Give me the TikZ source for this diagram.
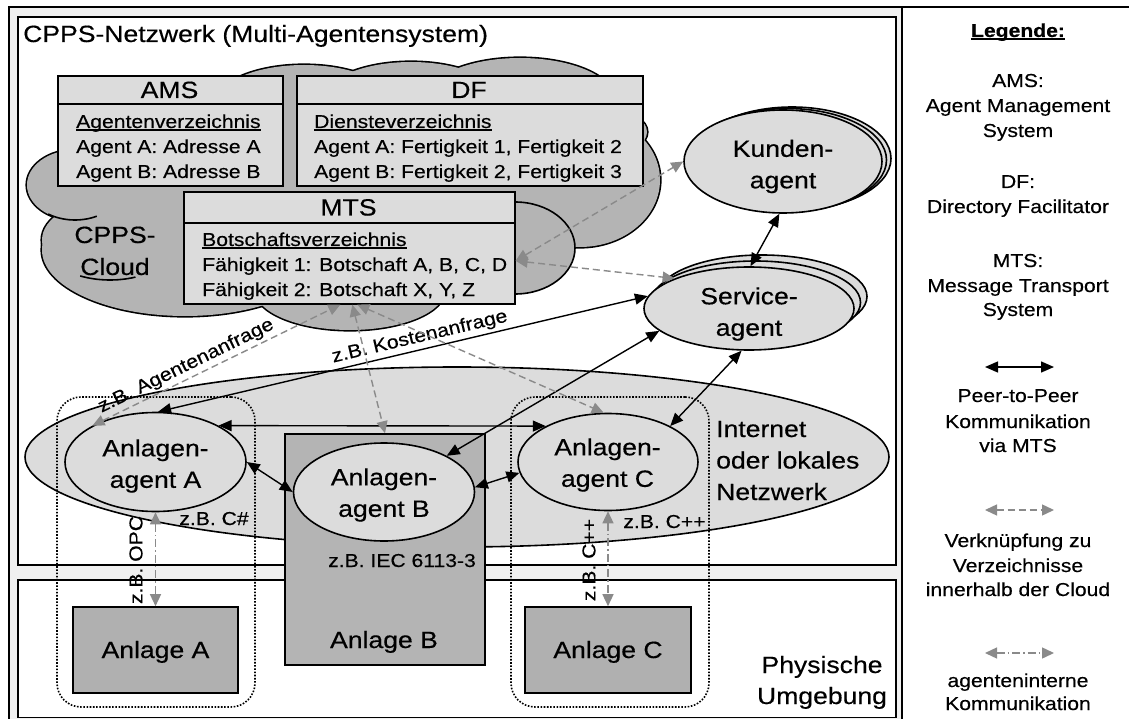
\documentclass[tikz,border=0pt]{standalone}
\usepackage{fontspec}
\setmainfont[FakeStretch=1.13,FakeBold=0.4]{Liberation Sans}
\usetikzlibrary{shapes.geometric,arrows.meta,calc}
\newcommand{\bigtxt}{\fontsize{23.5}{31.5}\selectfont}
\newcommand{\smalltxt}{\fontsize{18.7}{25}\selectfont}
% underline set close to the baseline
\newcommand{\ulbar}[1]{\leavevmode\setbox0\hbox{#1}\rlap{\rule[-2.6pt]{\wd0}{1.1pt}}\box0}
\definecolor{panel}{HTML}{F0F0F0}
\definecolor{boxfill}{HTML}{DCDCDC}
\definecolor{cloudgray}{HTML}{B4B4B4}
\definecolor{plantgray}{HTML}{B0B0B0}
\definecolor{linkgray}{HTML}{8A8A8A}
\begin{document}
\begin{tikzpicture}[x=1pt,y=-1pt,
  frame/.style={draw=black,line width=1.8pt},
  whitebox/.style={rectangle,draw=black,fill=white,line width=1.8pt,inner sep=0pt,anchor=north west},
  tbl/.style={rectangle,draw=black,fill=boxfill,line width=1.6pt,inner sep=0pt,anchor=north west},
  agent/.style={ellipse,draw=black,fill=boxfill,line width=1.6pt,inner sep=0pt},
  plant/.style={rectangle,draw=black,fill=plantgray,line width=1.6pt,inner sep=0pt},
  grp/.style={rectangle,rounded corners=24pt,draw=black,line width=1.6pt,dash pattern=on 1.6pt off 1.6pt,inner sep=0pt},
  big/.style={font=\bigtxt,inner sep=0pt},
  small/.style={font=\smalltxt,inner sep=0pt},
  p2p/.style={draw=black,line width=1.4pt,{Triangle[length=13pt,width=11pt]}-{Triangle[length=13pt,width=11pt]}},
  dirlink/.style={draw=linkgray,line width=1.4pt,dash pattern=on 7pt off 4pt,{Triangle[length=12pt,width=11pt]}-{Triangle[length=12pt,width=11pt]}},
  intlink/.style={draw=linkgray,line width=1.4pt,dash pattern=on 8pt off 3pt on 1.5pt off 3pt,{Triangle[length=12pt,width=11pt]}-{Triangle[length=12pt,width=11pt]}},
  cloudline/.style={line width=1.6pt},
]
\useasboundingbox (0,0) rectangle (1129,719);

% ---- outer table: diagram cell and legend cell
\fill[panel] (9,7) rectangle (902,730);
\draw[frame] (9,7) rectangle (1140,730);
\draw[frame] (902,7) -- (902,730);
\node[whitebox,minimum width=878,minimum height=548] (netzbox) at (17,16) {};
\node[whitebox,minimum width=878,minimum height=137.5] (physbox) at (17,579) {};
\node[big,anchor=base west] (title) at (23,42) {CPPS-Netzwerk (Multi-Agentensystem)};

% ---- CPPS cloud: union of lobes with an outline only on the outside
\def\cloudlobes{304/105/90/40, 411/102/90/40, 520/100/95/42, 615/132/32/20,
    580/180/80/67, 75/185/48/35, 170/172/120/45, 110/240/68/40,
    185/250/143/66, 350/290/95/40, 350/200/220/90}
\foreach \cx/\cy/\rx/\ry in \cloudlobes
  {\draw[line width=3.2pt] (\cx,\cy) ellipse [x radius=\rx, y radius=\ry];}
\foreach \cx/\cy/\rx/\ry in \cloudlobes
  {\fill[cloudgray] (\cx,\cy) ellipse [x radius=\rx, y radius=\ry];}
\draw[cloudline,fill=cloudgray] (515,248) ellipse [x radius=60, y radius=46];
% inner lobe edges left visible inside the cloud
\draw[cloudline] ([shift={(75,185)}]124:48 and 35) arc [start angle=124, end angle=63, x radius=48, y radius=35];
\draw[cloudline] ([shift={(110,240)}]116:68 and 40) arc [start angle=116, end angle=68, x radius=68, y radius=40];
\node[big,anchor=base] (cloudA) at (115,243) {CPPS-};
\node[big,anchor=base] (cloudB) at (115,275) {Cloud};

% ---- directories
\node[tbl,minimum width=225,minimum height=110] (ams) at (57,75) {};
\draw[line width=1.6pt] ($(ams.north west)+(0,29)$) -- ($(ams.north east)+(0,29)$);
\node[big,anchor=base] (amsh) at (169.5,98) {AMS};
\node[small,anchor=base west] (ams1) at (76,128) {\ulbar{Agentenverzeichnis}};
\node[small,anchor=base west] (ams2) at (76,153) {Agent A: Adresse A};
\node[small,anchor=base west] (ams3) at (76,178) {Agent B: Adresse B};

\node[tbl,minimum width=346,minimum height=110] (df) at (296,75) {};
\draw[line width=1.6pt] ($(df.north west)+(0,29)$) -- ($(df.north east)+(0,29)$);
\node[big,anchor=base] (dfh) at (469,98) {DF};
\node[small,anchor=base west] (df1) at (314,128) {\ulbar{Diensteverzeichnis}};
\node[small,anchor=base west] (df2) at (314,153) {Agent A: Fertigkeit 1, Fertigkeit 2};
\node[small,anchor=base west] (df3) at (314,178) {Agent B: Fertigkeit 2, Fertigkeit 3};

\node[tbl,minimum width=331,minimum height=112] (mts) at (183,191) {};
\draw[line width=1.6pt] ($(mts.north west)+(0,32)$) -- ($(mts.north east)+(0,32)$);
\node[big,anchor=base] (mtsh) at (348.5,215.5) {MTS};
\node[small,anchor=base west] (mts1) at (202,246) {\ulbar{Botschaftsverzeichnis}};
\node[small,anchor=base west] (mts2) at (202,271) {Fähigkeit 1: Botschaft A, B, C, D};
\node[small,anchor=base west] (mts3) at (202,296) {Fähigkeit 2: Botschaft X, Y, Z};

% ---- network, plants and agents
\node[agent,minimum width=864,minimum height=180] (net) at (457,457) {};
\node[big,anchor=base west] (net1) at (716,437) {Internet};
\node[big,anchor=base west] (net2) at (716,468.5) {oder lokales};
\node[big,anchor=base west] (net3) at (716,500) {Netzwerk};

\node[plant,minimum width=165,minimum height=86] (pa) at (155.5,650) {};
\node[plant,fill=cloudgray,minimum width=200,minimum height=231] (pb) at (385,549.5) {};
\node[plant,minimum width=166,minimum height=86] (pc) at (608,650) {};
\node[big,anchor=base] (pat) at (155.5,658) {Anlage A};
\node[big,anchor=base] (pbt) at (384,648) {Anlage B};
\node[big,anchor=base] (pct) at (608,658) {Anlage C};
\node[small,anchor=base] (iec) at (402,567) {z.B. IEC 6113-3};

\node[grp,minimum width=198,minimum height=310] (ga) at (156,552) {};
\node[grp,minimum width=198,minimum height=310] (gc) at (610,552) {};

\node[agent,minimum width=181,minimum height=99] (aa) at (155.5,462) {};
\node[agent,minimum width=181,minimum height=98] (ab) at (384,492) {};
\node[agent,minimum width=180,minimum height=97] (ac) at (608,462) {};
\node[big,align=center] (aat) at (155.5,466) {Anlagen-\\agent A};
\node[big,align=center] (abt) at (384,495) {Anlagen-\\agent B};
\node[big,align=center] (act) at (607.5,465) {Anlagen-\\agent C};

\node[agent,minimum width=198,minimum height=103] (kab) at (792,158.5) {};
\node[agent,minimum width=198,minimum height=103] (kam) at (787.5,160) {};
\node[agent,minimum width=198,minimum height=103] (ka) at (783,161.5) {};
\node[big,align=center] (kat) at (783,166.5) {Kunden-\\agent};

\node[agent,minimum width=210,minimum height=83] (sab) at (762,296.5) {};
\node[agent,minimum width=210,minimum height=83] (sam) at (755.5,302.5) {};
\node[agent,minimum width=210,minimum height=83] (sa) at (749,308.5) {};
\node[big,align=center] (sat) at (749,314) {Service-\\agent};

% ---- peer-to-peer links
\draw[p2p] (aa.30) -- (ac.150);
\draw[p2p] (aa.east) -- (ab.west);
\draw[p2p] (ab.3) -- (ac.187);
\draw[p2p] (aa.87) -- node[small,sloped,above=3pt,pos=.54] (kost) {z.B. Kostenanfrage} (sa.173);
\draw[p2p] (ab.30) -- (sa.194);
\draw[p2p] (ac.30) -- (sa.260);
\draw[p2p] (sa.88) -- (ka.266);

% ---- links to the directories in the cloud
\coordinate (mtsR) at ($(mts.east)+(0,13)$);
\coordinate (mtsA) at ($(mts.south)+(-9,0)$);
\coordinate (mtsB) at ($(mts.south)+(3,0)$);
\coordinate (mtsC) at ($(mts.south)+(8,0)$);
\draw[dirlink] (mtsR) -- (ka.180);
\draw[dirlink] (mtsR) -- (sa.158);
\draw[dirlink] (aa.150) -- node[small,sloped,above=3pt,pos=.4] (agan) {z.B. Agentenanfrage} (mtsA);
\draw[dirlink] (mtsB) -- (pb.north);
\draw[dirlink] (mtsC) -- (ac.95);

% ---- agent-internal links
\draw[intlink] (aa.south) -- (pa.north);
\draw[intlink] (ac.south) -- (pc.north);
\node[small,rotate=90] (opc) at (136,560) {z.B. OPC};
\node[small,anchor=base] (csh) at (214,525) {z.B. C\#};
\node[small,rotate=90] (cpp) at (589,560) {z.B. C++};
\node[small,anchor=base] (cpph) at (664.5,528) {z.B. C++};

\node[big,anchor=base] (phys1) at (822,673) {Physische};
\node[big,anchor=base] (phys2) at (822,704) {Umgebung};

% ---- legend
\node[small,font=\smalltxt\bfseries,anchor=base] (leg) at (1018,37) {\ulbar{Legende:}};
\foreach \t/\y [count=\i] in {AMS:/87, Agent Management/112, System/137,
    DF:/188, Directory Facilitator/213,
    MTS:/267, Message Transport/292, System/316,
    Peer-to-Peer/402, Kommunikation/428, via MTS/452,
    Verknüpfung zu/547, Verzeichnisse/572, innerhalb der Cloud/596,
    agenteninterne/687, Kommunikation/710}
  {\node[small,anchor=base] (leg\i) at (1018,\y) {\t};}
\coordinate (lpa) at (985,367);  \coordinate (lpb) at (1054,367);
\coordinate (lda) at (985,510);  \coordinate (ldb) at (1054,510);
\coordinate (lia) at (985,653);  \coordinate (lib) at (1054,653);
\draw[p2p] (lpa) -- (lpb);
\draw[dirlink] (lda) -- (ldb);
\draw[intlink] (lia) -- (lib);
\end{tikzpicture}
\end{document}
